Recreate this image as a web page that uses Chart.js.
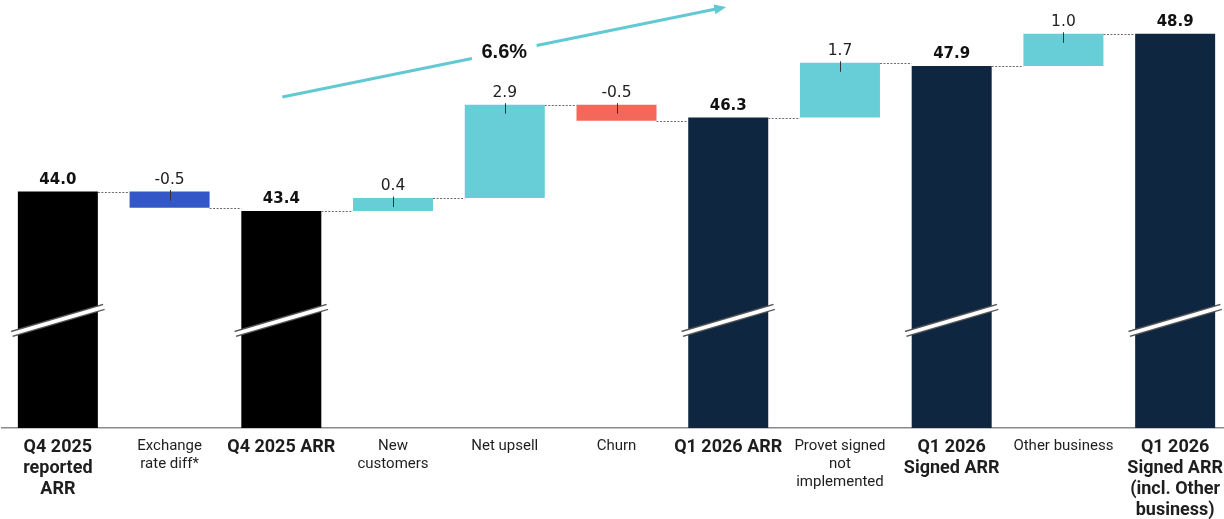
<!DOCTYPE html>
<html>
<head>
<meta charset="utf-8">
<script src="https://cdn.jsdelivr.net/npm/chart.js@4/dist/chart.umd.min.js"></script>
<style>
  html, body { margin: 0; padding: 0; background: #fff; overflow: hidden; }
  #wrap { position: relative; width: 1232px; height: 519px; }
</style>
</head>
<body>
<div id="wrap"><canvas id="c" width="1232" height="519"></canvas></div>
<script>
// ARR bridge, EUR m
const categories = [
  ['Q4 2025', 'reported', 'ARR'],
  ['Exchange', 'rate diff*'],
  'Q4 2025 ARR',
  ['New', 'customers'],
  'Net upsell',
  'Churn',
  'Q1 2026 ARR',
  ['Provet signed', 'not', 'implemented'],
  ['Q1 2026', 'Signed ARR'],
  'Other business',
  ['Q1 2026', 'Signed ARR', '(incl. Other', 'business)']
];
const values = [44.0, -0.5, 43.4, 0.4, 2.9, -0.5, 46.3, 1.7, 47.9, 1.0, 48.9];
const kinds  = ['total', 'fx', 'total', 'up', 'up', 'down', 'total', 'up', 'total', 'up', 'total'];
const growthLabel = '6.6%';

// broken value axis: bars rise from yMin, break drawn at breakValue
const yMin = 36.66, yMax = 49.95;
const breakValue = 40;

const palette = { prior: '#000000', current: '#0F2640', fx: '#3457C8', up: '#67CDD6', down: '#F4685B' };
const teal = '#62C9D3';

// running levels for the floating bars
let level = 0;
const spans = [], ends = [];
values.forEach((v, i) => {
  if (kinds[i] === 'total') {
    level = v;
    spans.push([yMin, v]);
  } else {
    const start = level;
    level = Math.round((level + v) * 100) / 100;
    spans.push([start, level]);
  }
  ends.push(level);
});

const barColors = values.map((v, i) => {
  if (kinds[i] === 'total') {
    const first = Array.isArray(categories[i]) ? categories[i][0] : categories[i];
    return first.startsWith('Q4') ? palette.prior : palette.current;
  }
  return palette[kinds[i]];
});

const bridgePlugin = {
  id: 'bridge',
  afterDatasetsDraw(chart) {
    const { ctx, chartArea, scales } = chart;
    const y = scales.y, x = scales.x;
    const bars = chart.getDatasetMeta(0).data;

    ctx.save();
    // dotted connectors between consecutive bars
    ctx.strokeStyle = '#6b6b6b';
    ctx.lineWidth = 1;
    ctx.setLineDash([2, 1.5]);
    for (let i = 0; i < bars.length - 1; i++) {
      const yy = Math.round(y.getPixelForValue(ends[i])) + 0.5;
      ctx.beginPath();
      ctx.moveTo(bars[i].x + bars[i].width / 2, yy);
      ctx.lineTo(bars[i + 1].x - bars[i + 1].width / 2, yy);
      ctx.stroke();
    }
    ctx.setLineDash([]);

    // axis break marks on the total bars
    const by = y.getPixelForValue(breakValue);
    bars.forEach((b, i) => {
      if (kinds[i] !== 'total') return;
      const hx = 46, hy = 13.5;
      ctx.lineCap = 'butt';
      ctx.strokeStyle = '#555';
      ctx.lineWidth = 6.5;
      ctx.beginPath(); ctx.moveTo(b.x - hx, by + hy); ctx.lineTo(b.x + hx, by - hy); ctx.stroke();
      ctx.strokeStyle = '#fff';
      ctx.lineWidth = 3.8;
      ctx.beginPath(); ctx.moveTo(b.x - hx - 2, by + hy + 0.6); ctx.lineTo(b.x + hx + 2, by - hy - 0.6); ctx.stroke();
    });

    // small markers and value labels
    ctx.textAlign = 'center';
    ctx.textBaseline = 'alphabetic';
    bars.forEach((b, i) => {
      const top = Math.min(b.y, b.base);
      if (kinds[i] !== 'total') {
        ctx.strokeStyle = '#333';
        ctx.lineWidth = 1;
        ctx.beginPath();
        ctx.moveTo(Math.round(b.x) + 0.5, top - 1.5);
        ctx.lineTo(Math.round(b.x) + 0.5, top + 9);
        ctx.stroke();
        ctx.font = '15.5px "DejaVu Sans"';
        ctx.fillStyle = '#222';
        ctx.fillText(values[i].toFixed(1), b.x, top - 8);
      } else {
        ctx.font = 'bold 15px "DejaVu Sans"';
        ctx.fillStyle = '#111';
        ctx.fillText(values[i].toFixed(1), b.x, top - 8);
      }
    });

    // growth arrow from Q4 2025 ARR towards Q1 2026 ARR
    const x0 = x.getPixelForValue(2) + 1, y0 = chartArea.top + 97;
    const x1 = x.getPixelForValue(6) - 2, y1 = chartArea.top + 7;
    const ang = Math.atan2(y1 - y0, x1 - x0);
    const tx = (x0 + x1) / 2, ty = y0 + (y1 - y0) * ((tx - x0) / (x1 - x0));
    const gap = 33;
    ctx.strokeStyle = teal;
    ctx.lineWidth = 3;
    ctx.beginPath();
    ctx.moveTo(x0, y0);
    ctx.lineTo(tx - gap * Math.cos(ang), ty - gap * Math.sin(ang));
    ctx.moveTo(tx + gap * Math.cos(ang), ty + gap * Math.sin(ang));
    ctx.lineTo(x1 - 8 * Math.cos(ang), y1 - 8 * Math.sin(ang));
    ctx.stroke();
    ctx.fillStyle = teal;
    ctx.beginPath();
    ctx.moveTo(x1, y1);
    ctx.lineTo(x1 - 12 * Math.cos(ang) + 5 * Math.sin(ang), y1 - 12 * Math.sin(ang) - 5 * Math.cos(ang));
    ctx.lineTo(x1 - 12 * Math.cos(ang) - 5 * Math.sin(ang), y1 - 12 * Math.sin(ang) + 5 * Math.cos(ang));
    ctx.closePath();
    ctx.fill();
    ctx.fillStyle = '#111';
    ctx.font = 'bold 20px "Liberation Sans"';
    ctx.textBaseline = 'middle';
    ctx.fillText(growthLabel, tx, ty);
    ctx.restore();
  }
};

new Chart(document.getElementById('c'), {
  type: 'bar',
  data: {
    labels: categories,
    datasets: [{
      data: spans,
      backgroundColor: barColors,
      borderWidth: 0,
      barPercentage: 0.716,
      categoryPercentage: 1
    }]
  },
  options: {
    responsive: false,
    animation: false,
    devicePixelRatio: 1,
    layout: { padding: { left: 2, right: 0, top: 0, bottom: 0 } },
    plugins: { legend: { display: false }, tooltip: { enabled: false } },
    scales: {
      x: {
        grid: { display: false, drawTicks: false },
        border: { display: true, color: '#8a8a8a', width: 1.5 },
        ticks: {
          autoSkip: false,
          maxRotation: 0,
          padding: 9,
          color: '#1e1e1e',
          font: (c) => kinds[c.index] === 'total'
            ? { family: 'Roboto', size: 18, weight: 'bold', lineHeight: 21 / 18 }
            : { family: 'Roboto', size: 15, weight: 'normal', lineHeight: 18 / 15 }
        },
        afterFit: (s) => { s.height = 91; }
      },
      y: { display: false, min: yMin, max: yMax }
    }
  },
  plugins: [bridgePlugin]
});
</script>
</body>
</html>
